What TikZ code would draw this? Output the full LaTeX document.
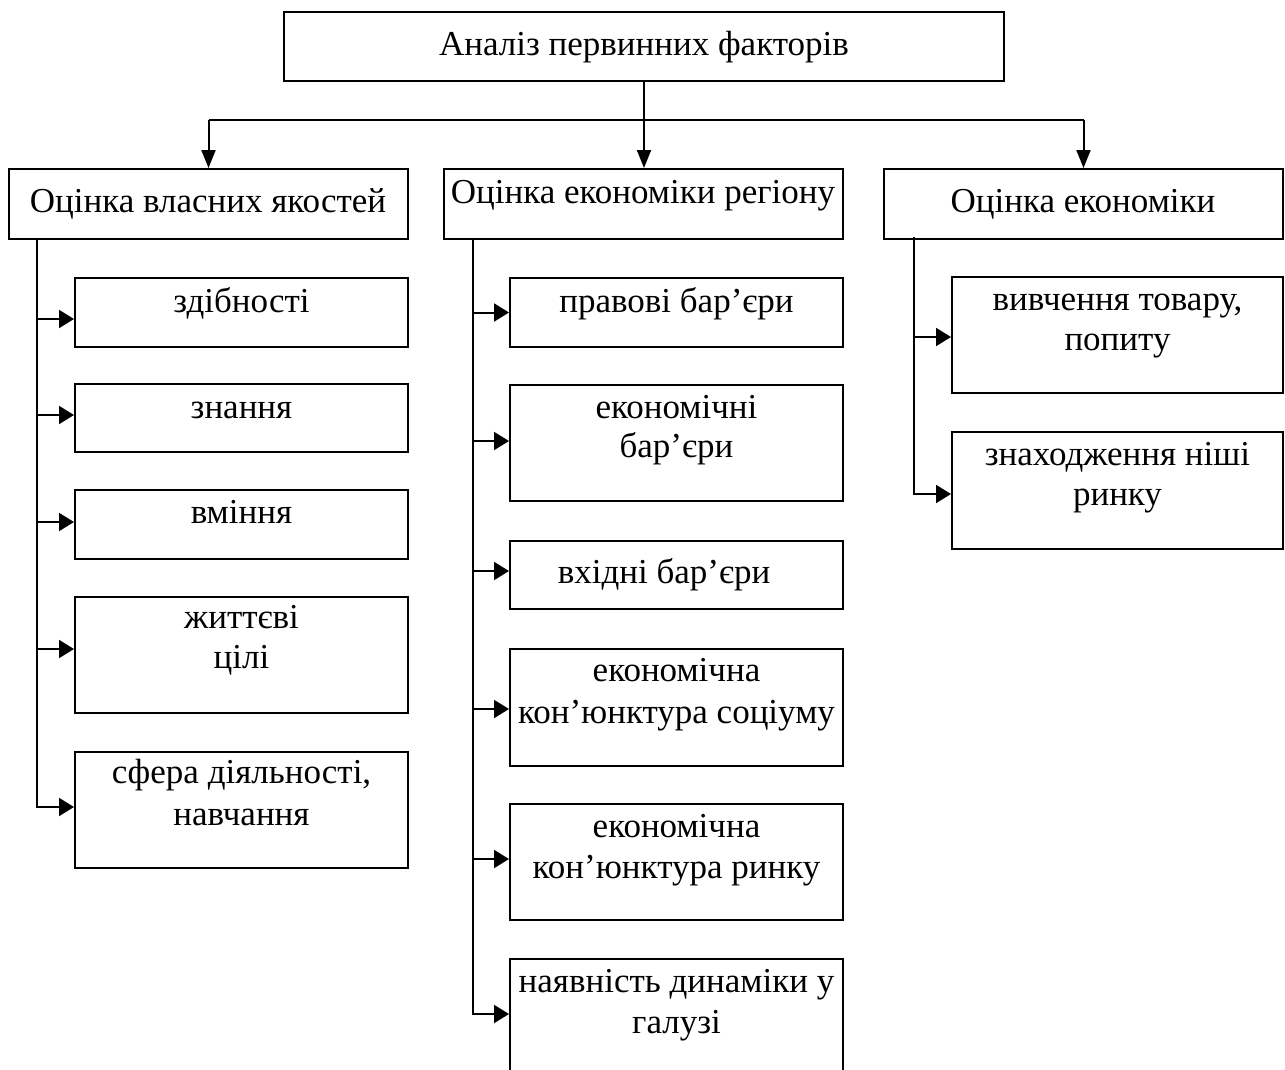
\documentclass[tikz,border=0pt]{standalone}
\usepackage{fontspec}
\setmainfont{Liberation Serif}
\usetikzlibrary{arrows.meta,fit,calc}

\begin{document}
\begin{tikzpicture}[x=1pt,y=-1pt,
  box/.style={draw=black, line width=2pt, inner sep=0pt, rectangle},
  txt/.style={anchor=base, inner sep=0pt, font=\fontsize{35}{40}\selectfont},
  link/.style={draw=black, line width=2pt},
  downarr/.style={link, -{Triangle[length=18pt,width=14pt]}},
  sidearr/.style={link, -{Triangle[length=15pt,width=18pt]}}]

\useasboundingbox (0,0) rectangle (1285,1069);
\clip (0,0) rectangle (1285,1069);

% root and the three branches
\node[box, fit={(284,12) (1004,81)}] (root) {};
\node[txt] (troot) at (644,55) {Аналіз первинних факторів};

\node[box, fit={(9,169) (408,239)}] (own) {};
\node[txt] (town) at (208,212) {Оцінка власних якостей};
\node[box, fit={(444,169) (843,239)}] (reg) {};
\node[txt] (treg) at (643,203) {Оцінка економіки регіону};
\node[box, fit={(884,169) (1283,239)}] (eco) {};
\node[txt] (teco) at (1083,212) {Оцінка економіки};

% branch from the root
\coordinate (busL) at (own.north |- 0,119.5);
\coordinate (busR) at (eco.north |- 0,119.5);
\draw[link] (busL) -- (busR);
\draw[downarr] (root.south) -- (root.south |- reg.north);
\draw[downarr] (busL) -- (own.north);
\draw[downarr] (busR) -- (eco.north);

% left column
\node[box, fit={(75,278) (408,347)}] (a1) {};
\node[txt] (ta1) at (241.5,312) {здібності};
\node[box, fit={(75,384) (408,452)}] (a2) {};
\node[txt] (ta2) at (241.5,418) {знання};
\node[box, fit={(75,490) (408,559)}] (a3) {};
\node[txt] (ta3) at (241.5,523) {вміння};
\node[box, fit={(75,597) (408,713)}] (a4) {};
\node[txt] (ta4a) at (241.5,628) {життєві};
\node[txt] (ta4b) at (241.5,668) {цілі};
\node[box, fit={(75,752) (408,868)}] (a5) {};
\node[txt] (ta5a) at (241.5,783) {сфера діяльності,};
\node[txt] (ta5b) at (241.5,825) {навчання};

\coordinate (spA) at (37,238);
\coordinate (spAend) at (37,808);
\draw[link] (spA) -- (spAend);
\draw[sidearr] ($(a1.west)+(-37,6.5)$) -- ($(a1.west)+(0,6.5)$);
\draw[sidearr] ($(a2.west)+(-37,-3)$) -- ($(a2.west)+(0,-3)$);
\draw[sidearr] ($(a3.west)+(-37,-2.5)$) -- ($(a3.west)+(0,-2.5)$);
\draw[sidearr] ($(a4.west)+(-37,-6)$) -- ($(a4.west)+(0,-6)$);
\draw[sidearr] ($(a5.west)+(-37,-3)$) -- ($(a5.west)+(0,-3)$);

% middle column
\node[box, fit={(510,278) (843,347)}] (b1) {};
\node[txt] (tb1) at (676.5,312) {правові бар’єри};
\node[box, fit={(510,385) (843,501)}] (b2) {};
\node[txt] (tb2a) at (676.5,418) {економічні};
\node[txt] (tb2b) at (676.5,457) {бар’єри};
\node[box, fit={(510,541) (843,609)}] (b3) {};
\node[txt] (tb3) at (664,583) {вхідні бар’єри};
\node[box, fit={(510,649) (843,766)}] (b4) {};
\node[txt] (tb4a) at (676.5,681) {економічна};
\node[txt] (tb4b) at (676.5,723) {кон’юнктура соціуму};
\node[box, fit={(510,804) (843,920)}] (b5) {};
\node[txt] (tb5a) at (676.5,837) {економічна};
\node[txt] (tb5b) at (676.5,878) {кон’юнктура ринку};
\node[box, fit={(510,959) (843,1080)}] (b6) {};
\node[txt] (tb6a) at (676.5,992) {наявність динаміки у};
\node[txt] (tb6b) at (676.5,1033) {галузі};

\coordinate (spB) at (473,238);
\coordinate (spBend) at (473,1015);
\draw[link] (spB) -- (spBend);
\draw[sidearr] ($(b1.west)+(-37,0)$) -- (b1.west);
\draw[sidearr] ($(b2.west)+(-37,-2)$) -- ($(b2.west)+(0,-2)$);
\draw[sidearr] ($(b3.west)+(-37,-4)$) -- ($(b3.west)+(0,-4)$);
\draw[sidearr] ($(b4.west)+(-37,1.5)$) -- ($(b4.west)+(0,1.5)$);
\draw[sidearr] ($(b5.west)+(-37,-3)$) -- ($(b5.west)+(0,-3)$);
\draw[sidearr] ($(b6.west)+(-37,-5.5)$) -- ($(b6.west)+(0,-5.5)$);

% right column
\node[box, fit={(952,277) (1283,393)}] (c1) {};
\node[txt] (tc1a) at (1117.5,310) {вивчення товару,};
\node[txt] (tc1b) at (1117.5,350) {попиту};
\node[box, fit={(952,432) (1283,549)}] (c2) {};
\node[txt] (tc2a) at (1117.5,465) {знаходження ніші};
\node[txt] (tc2b) at (1117.5,505) {ринку};

\coordinate (spC) at (914,237);
\coordinate (spCend) at (914,495);
\draw[link] (spC) -- (spCend);
\draw[sidearr] ($(c1.west)+(-38,2)$) -- ($(c1.west)+(0,2)$);
\draw[sidearr] ($(c2.west)+(-38,3.5)$) -- ($(c2.west)+(0,3.5)$);
\end{tikzpicture}
\end{document}
